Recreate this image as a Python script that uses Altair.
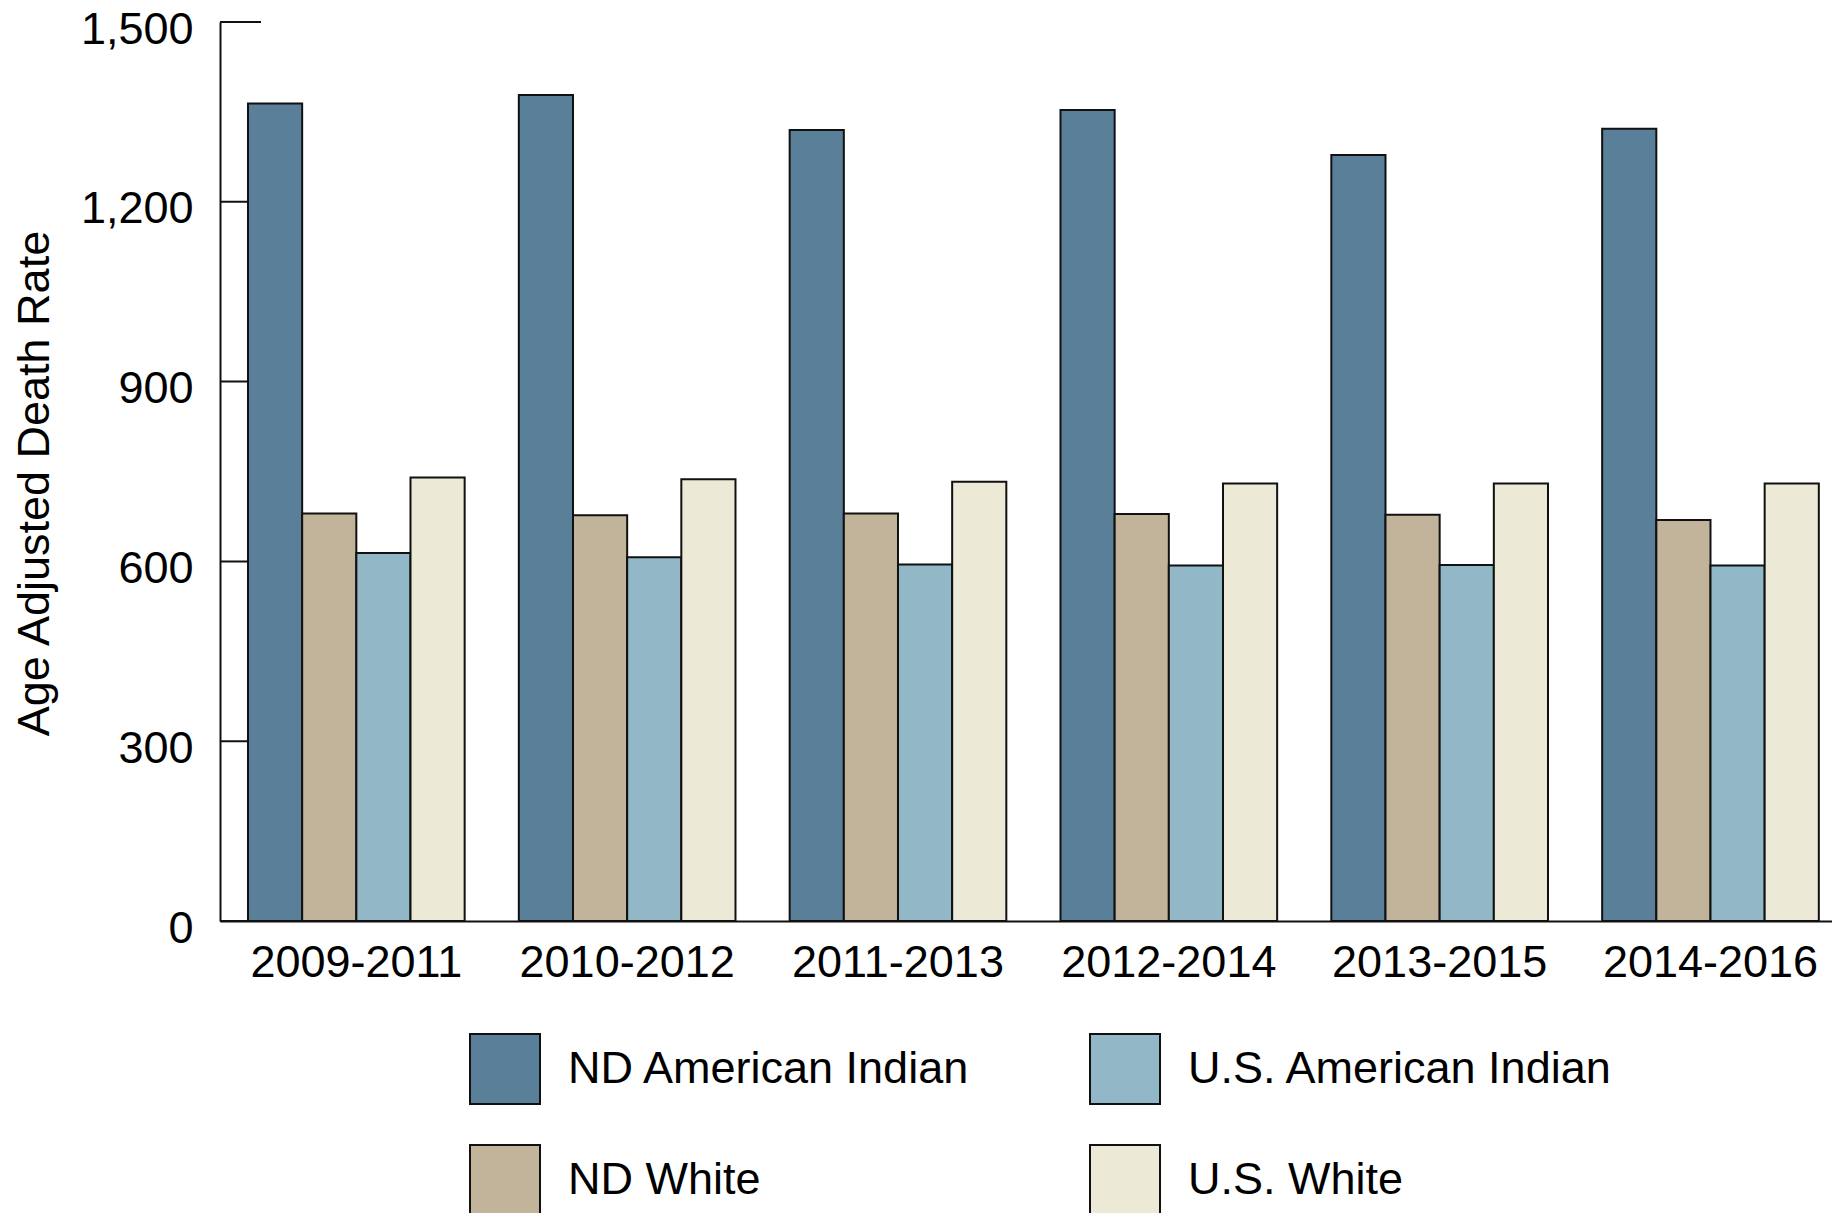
import altair as alt
import pandas as pd

periods = ["2009-2011", "2010-2012", "2011-2013", "2012-2014", "2013-2015", "2014-2016"]
groups_bar_order = ["ND American Indian", "ND White", "U.S. American Indian", "U.S. White"]
colors = ["#5A7F99", "#C1B49B", "#92B8C8", "#ECE9D7"]

nd_american_indian = [1364, 1378, 1320, 1353, 1278, 1322]
nd_white = [680, 677, 680, 679, 678, 669]
us_american_indian = [614, 607, 595, 593, 594, 593]
us_white = [740, 737, 733, 730, 730, 730]

y_ticks = [0, 300, 600, 900, 1200, 1500]

series = {
    "ND American Indian": nd_american_indian,
    "ND White": nd_white,
    "U.S. American Indian": us_american_indian,
    "U.S. White": us_white,
}
rows = []
for g, vals in series.items():
    for p, v in zip(periods, vals):
        rows.append({"period": p, "group": g, "rate": v})
df = pd.DataFrame(rows)
ticks_df = pd.DataFrame({"tick": y_ticks})

FONT = "Liberation Sans"

y_scale = alt.Scale(domain=[0, 1500], nice=False)

tick_rules = alt.Chart(ticks_df).mark_rule(color="#111111", strokeWidth=2).encode(
    y=alt.Y("tick:Q", scale=y_scale),
    x=alt.value(0),
    x2=alt.value(41),
)

bars = alt.Chart(df).mark_bar(stroke="#111111", strokeWidth=2).encode(
    x=alt.X(
        "period:N",
        sort=periods,
        scale=alt.Scale(paddingInner=0.2, paddingOuter=0.076, align=0.68),
        axis=alt.Axis(
            title=None,
            labelAngle=0,
            labelFontSize=45,
            labelFont=FONT,
            labelColor="#000000",
            labelPadding=19,
            labelLimit=600,
            ticks=False,
            domainColor="#111111",
            domainWidth=2,
        ),
    ),
    xOffset=alt.XOffset("group:N", sort=groups_bar_order),
    y=alt.Y(
        "rate:Q",
        scale=y_scale,
        axis=alt.Axis(
            title="Age Adjusted Death Rate",
            values=y_ticks,
            format=",d",
            ticks=False,
            grid=False,
            labelFontSize=45,
            labelFont=FONT,
            labelColor="#000000",
            labelPadding=27,
            labelOffset=7,
            labelLimit=600,
            domainColor="#111111",
            domainWidth=2,
            titleFont=FONT,
            titleFontSize=45,
            titleFontWeight="normal",
            titleColor="#000000",
            titleAngle=270,
            titleAlign="center",
            titleBaseline="alphabetic",
            titleX=-172,
            titleY=461,
        ),
    ),
    color=alt.Color(
        "group:N",
        scale=alt.Scale(domain=groups_bar_order, range=colors),
        legend=alt.Legend(
            title=None,
            orient="none",
            legendX=249,
            legendY=1011,
            columns=2,
            symbolType="square",
            symbolSize=4900,
            symbolStrokeColor="#111111",
            symbolStrokeWidth=2,
            symbolOpacity=1,
            labelFont=FONT,
            labelFontSize=45,
            labelColor="#000000",
            labelOffset=27,
            labelLimit=1000,
            columnPadding=115,
            rowPadding=33,
            padding=0,
        ),
    ),
)

chart = alt.layer(tick_rules, bars).properties(
    width=1612,
    height=899,
    padding={"left": 212, "top": 14, "right": 0, "bottom": 300},
    autosize=alt.AutoSizeParams(type="none"),
    background="white",
).configure_view(stroke=None)

chart.save("out.html", embed_options={"renderer": "svg", "actions": False})
